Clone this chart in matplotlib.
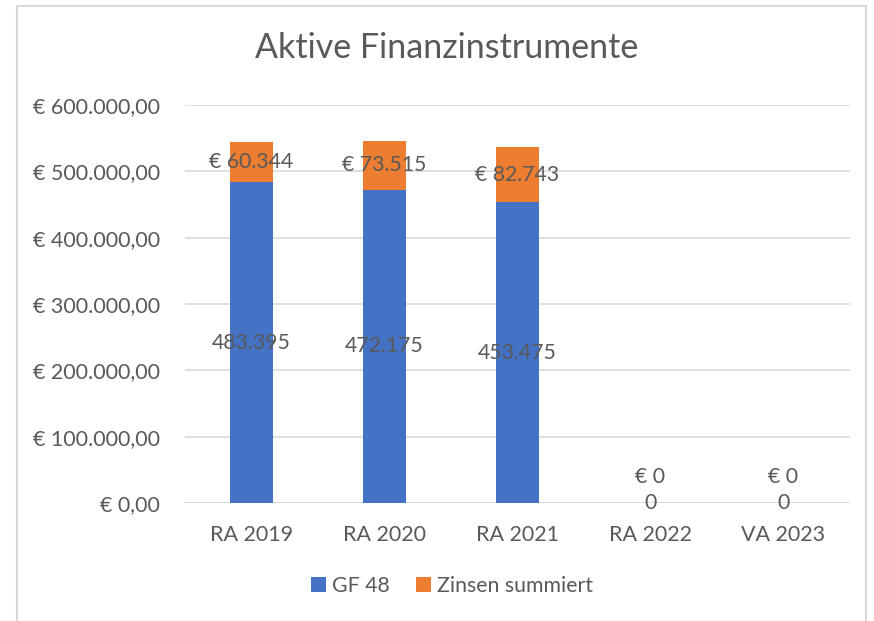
import matplotlib
matplotlib.use("Agg")
import matplotlib.pyplot as plt
from matplotlib.patches import Rectangle
import numpy as np

categories = ["RA 2019", "RA 2020", "RA 2021", "RA 2022", "VA 2023"]
gf48 = [483395, 472175, 453475, 0, 0]
zinsen = [60344, 73515, 82743, 0, 0]
yticks = [0, 100000, 200000, 300000, 400000, 500000, 600000]

BLUE = "#4472C4"
ORANGE = "#ED7D31"
TEXT = "#595959"
GRID = "#D9D9D9"

plt.rcParams["font.family"] = ["Lato", "DejaVu Sans"]


def de_num(v, decimals=0):
    s = f"{v:,.{decimals}f}"
    return s.replace(",", "X").replace(".", ",").replace("X", ".")


fig = plt.figure(figsize=(8.74, 6.21), dpi=100)
ax = fig.add_axes([185 / 874, 1 - 503 / 621, (850 - 185) / 874, (503 - 105) / 621])

x = np.arange(len(categories))
w = 0.32
ax.bar(x, gf48, w, color=BLUE, label="GF 48", zorder=3)
ax.bar(x, zinsen, w, bottom=gf48, color=ORANGE, label="Zinsen summiert", zorder=3)

# data labels, centred in each segment (zero segments pushed apart like Excel does)
for i in range(len(categories)):
    ax.annotate(de_num(gf48[i]), (x[i], gf48[i] / 2), ha="center", va="center",
                fontsize=15.3, color=TEXT, zorder=4)
    off = 19 if zinsen[i] == 0 else 0
    ax.annotate("€ " + de_num(zinsen[i]), (x[i], gf48[i] + zinsen[i] / 2),
                xytext=(0, off), textcoords="offset points",
                ha="center", va="center", fontsize=15.3, color=TEXT, zorder=4)

ax.set_xlim(-0.5, len(categories) - 0.5)
ax.set_ylim(0, 600000)
ax.set_yticks(yticks)
ax.set_yticklabels(["€ " + de_num(v, 2) for v in yticks])
ax.set_xticks(x)
ax.set_xticklabels(categories)
ax.tick_params(axis="both", length=0, labelsize=15.5, labelcolor=TEXT)
ax.tick_params(axis="y", pad=18)
ax.tick_params(axis="x", pad=16)
ax.yaxis.grid(True, color=GRID, lw=1.2, zorder=0)
for s in ax.spines.values():
    s.set_visible(False)
ax.axhline(0, color=GRID, lw=1.2, zorder=2)

fig.text(447 / 874, 1 - 48 / 621, "Aktive Finanzinstrumente", ha="center", va="center",
         fontsize=24.5, color=TEXT)

leg = fig.legend(loc="center", bbox_to_anchor=(452 / 874, 1 - 586 / 621), ncol=2,
                 frameon=False, fontsize=15.3, handlelength=0.7, handleheight=0.7,
                 handletextpad=0.3, columnspacing=1.2)
for t in leg.get_texts():
    t.set_color(TEXT)

fig.patches.append(Rectangle((17 / 874, -0.02), (866 - 17) / 874, 1 - 6 / 621 + 0.02,
                             transform=fig.transFigure, fill=False, edgecolor=GRID, lw=1.5))

fig.savefig("out.png", dpi=100)
